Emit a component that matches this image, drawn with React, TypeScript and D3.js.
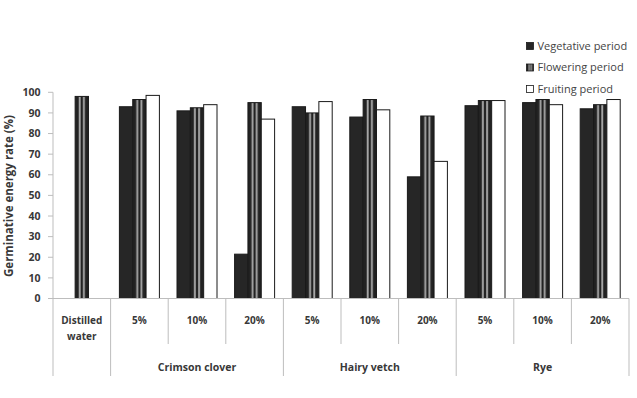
import React from "react";
import { scaleBand, scaleLinear, range } from "d3";

// categories along the x axis
const treatments = ["Distilled water", "5%", "10%", "20%", "5%", "10%", "20%", "5%", "10%", "20%"];
const groups = [
  { name: "", from: 0, to: 1 },
  { name: "Crimson clover", from: 1, to: 4 },
  { name: "Hairy vetch", from: 4, to: 7 },
  { name: "Rye", from: 7, to: 10 },
];
const seriesNames = ["Vegetative period", "Flowering period", "Fruiting period"];

// values (null = no bar)
const vegetative = [null, 93, 91, 21.5, 93, 88, 59, 93.5, 95, 92];
const flowering = [98, 96.5, 92.5, 95, 90, 96.5, 88.5, 96, 96.5, 94];
const fruiting = [null, 98.5, 94, 87, 95.5, 91.5, 66.5, 96, 94, 96.5];
const yTicks = [0, 10, 20, 30, 40, 50, 60, 70, 80, 90, 100];

const W = 637;
const H = 398;
const left = 53;
const right = 629;
const top = 92.3;
const bottom = 298.5;
const font = "'Open Sans', 'Liberation Sans', sans-serif";
const textColor = "#383838";
const axisColor = "#bdbdbd";

export default function App() {
  const values = [vegetative, flowering, fruiting];
  const x = scaleBand<number>().domain(range(treatments.length)).range([left, right]);
  const xSub = scaleBand<number>()
    .domain([0, 1, 2])
    .range([0, x.bandwidth()])
    .paddingInner(0)
    .paddingOuter(0.66);
  const y = scaleLinear().domain([0, 100]).range([bottom, top]);
  const bw = xSub.bandwidth();

  const fills = ["#262626", "url(#stripes)", "#ffffff"];

  return (
    <svg width={W} height={H} style={{ position: "absolute", left: 0, top: 0, background: "#fff" }}>
      <defs>
        {/* stripes anchored to each bar's own box */}
        <pattern id="stripes" patternUnits="objectBoundingBox" width={1} height={1}>
          <rect width={20} height={400} fill="#222" />
          <rect x={3.6} width={1.9} height={400} fill="#a8a8a8" />
          <rect x={7.8} width={1.9} height={400} fill="#a8a8a8" />
        </pattern>
      </defs>

      {/* y axis */}
      <line x1={left} x2={left} y1={top} y2={bottom} stroke={axisColor} />
      {yTicks.map((t) => (
        <g key={t}>
          <line x1={left - 5} x2={left} y1={y(t)} y2={y(t)} stroke={axisColor} />
          <text
            x={40.5}
            y={y(t)}
            dy="0.35em"
            textAnchor="end"
            fontFamily={font}
            fontSize={10.5}
            fontWeight="bold"
            fill={textColor}
          >
            {t}
          </text>
        </g>
      ))}
      <text
        transform={`translate(9,196) rotate(-90)`}
        textAnchor="middle"
        dy="0.35em"
        fontFamily={font}
        fontSize={11.5}
        fontWeight="bold"
        fill={textColor}
      >
        Germinative energy rate (%)
      </text>

      {/* bars */}
      {treatments.map((_, i) => {
        const present = values.map((v, s) => (v[i] == null ? -1 : s)).filter((s) => s >= 0);
        return (
          <g key={i}>
            {present.map((s) => {
              const v = values[s][i] as number;
              const bx =
                present.length === 1
                  ? (x(i) as number) + x.bandwidth() / 2 - bw / 2
                  : (x(i) as number) + (xSub(s) as number);
              return (
                <rect
                  key={s}
                  x={bx}
                  y={y(v)}
                  width={bw}
                  height={y(0) - y(v)}
                  fill={fills[s]}
                  stroke="#1a1a1a"
                  strokeWidth={1}
                />
              );
            })}
          </g>
        );
      })}

      {/* category axis */}
      <line x1={left} x2={right} y1={bottom} y2={bottom} stroke={axisColor} />
      {range(treatments.length + 1).map((i) => {
        const xx = i < treatments.length ? (x(i) as number) : right;
        const isGroupEdge = groups.some((g) => g.from === i || g.to === i);
        return (
          <line
            key={i}
            x1={xx}
            x2={xx}
            y1={bottom}
            y2={isGroupEdge ? 376 : 344}
            stroke={axisColor}
          />
        );
      })}
      {treatments.map((t, i) => {
        const cx = (x(i) as number) + x.bandwidth() / 2;
        const parts = t === "Distilled water" ? ["Distilled", "water"] : [t];
        return (
          <text
            key={i}
            x={cx}
            y={320.5}
            textAnchor="middle"
            fontFamily={font}
            fontSize={10}
            fontWeight="bold"
            fill={textColor}
          >
            {parts.map((p, k) => (
              <tspan key={k} x={cx} dy={k === 0 ? "0.35em" : 15.5}>
                {p}
              </tspan>
            ))}
          </text>
        );
      })}
      {groups
        .filter((g) => g.name)
        .map((g) => {
          const cx = ((x(g.from) as number) + (g.to < treatments.length ? (x(g.to) as number) : right)) / 2;
          return (
            <text
              key={g.name}
              x={cx}
              y={367}
              dy="0.35em"
              textAnchor="middle"
              fontFamily={font}
              fontSize={10.5}
              fontWeight="bold"
              fill={textColor}
            >
              {g.name}
            </text>
          );
        })}

      {/* legend */}
      {seriesNames.map((name, s) => {
        const ly = 46 + s * 21.5;
        return (
          <g key={name}>
            <rect x={526.5} y={ly - 3.5} width={7} height={7} fill={s === 1 ? "url(#legendStripes)" : fills[s]} stroke="#1a1a1a" strokeWidth={0.8} />
            <text x={537.5} y={ly} dy="0.35em" fontFamily={font} fontSize={11} fill="#444">
              {name}
            </text>
          </g>
        );
      })}
      <defs>
        <pattern id="legendStripes" patternUnits="objectBoundingBox" width={1} height={1}>
          <rect width={10} height={10} fill="#222" />
          <rect x={2} width={1.2} height={10} fill="#b0b0b0" />
          <rect x={4.2} width={1.2} height={10} fill="#b0b0b0" />
        </pattern>
      </defs>
    </svg>
  );
}
